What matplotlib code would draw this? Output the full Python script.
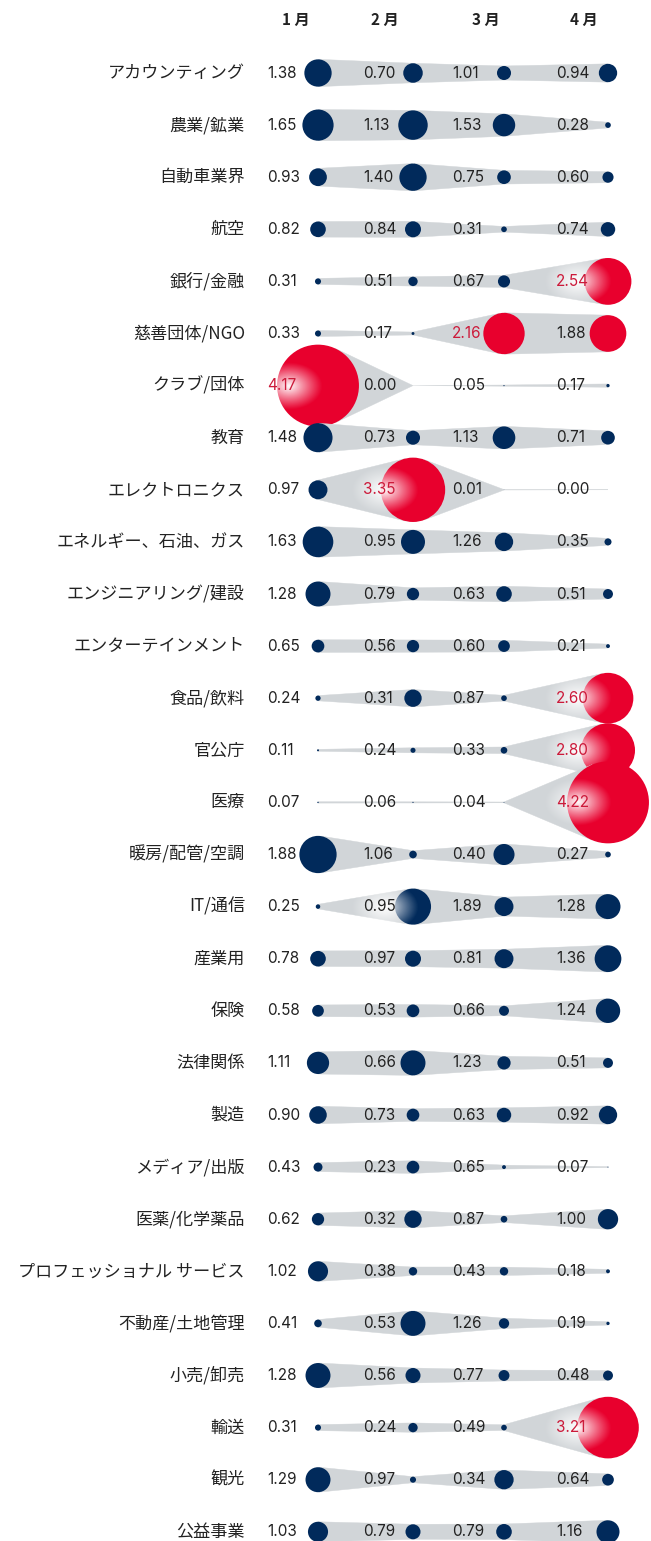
import matplotlib.pyplot as plt
from matplotlib.patches import Circle, Polygon
import numpy as np

industries = ['アカウンティング', '農業/鉱業', '自動車業界', '航空', '銀行/金融', '慈善団体/NGO',
              'クラブ/団体', '教育', 'エレクトロニクス', 'エネルギー、石油、ガス', 'エンジニアリング/建設',
              'エンターテインメント', '食品/飲料', '官公庁', '医療', '暖房/配管/空調', 'IT/通信', '産業用',
              '保険', '法律関係', '製造', 'メディア/出版', '医薬/化学薬品', 'プロフェッショナル サービス',
              '不動産/土地管理', '小売/卸売', '輸送', '観光', '公益事業']
months = ['1 月', '2 月', '3 月', '4 月']

# printed values
jan = [1.38, 1.65, 0.93, 0.82, 0.31, 0.33, 4.17, 1.48, 0.97, 1.63, 1.28, 0.65, 0.24, 0.11, 0.07,
       1.88, 0.25, 0.78, 0.58, 1.11, 0.90, 0.43, 0.62, 1.02, 0.41, 1.28, 0.31, 1.29, 1.03]
feb = [0.70, 1.13, 1.40, 0.84, 0.51, 0.17, 0.00, 0.73, 3.35, 0.95, 0.79, 0.56, 0.31, 0.24, 0.06,
       1.06, 0.95, 0.97, 0.53, 0.66, 0.73, 0.23, 0.32, 0.38, 0.53, 0.56, 0.24, 0.97, 0.79]
mar = [1.01, 1.53, 0.75, 0.31, 0.67, 2.16, 0.05, 1.13, 0.01, 1.26, 0.63, 0.60, 0.87, 0.33, 0.04,
       0.40, 1.89, 0.81, 0.66, 1.23, 0.63, 0.65, 0.87, 0.43, 1.26, 0.77, 0.49, 0.34, 0.79]
apr = [0.94, 0.28, 0.60, 0.74, 2.54, 1.88, 0.17, 0.71, 0.00, 0.35, 0.51, 0.21, 2.60, 2.80, 4.22,
       0.27, 1.28, 1.36, 1.24, 0.51, 0.92, 0.07, 1.00, 0.18, 0.19, 0.48, 3.21, 0.64, 1.16]

# bubble sizes as drawn (they don't always match the printed value)
jan_b = [1.40, 1.60, 0.91, 0.80, 0.31, 0.31, 4.20, 1.49, 0.97, 1.57, 1.28, 0.65, 0.27, 0.10, 0.07,
         1.91, 0.23, 0.80, 0.60, 1.14, 0.90, 0.46, 0.63, 1.03, 0.39, 1.28, 0.31, 1.28, 1.03]
feb_b = [1.00, 1.51, 1.40, 0.82, 0.48, 0.15, 0.00, 0.72, 3.30, 1.23, 0.63, 0.63, 0.89, 0.26, 0.06,
         0.39, 1.85, 0.82, 0.65, 1.28, 0.65, 0.65, 0.89, 0.43, 1.28, 0.77, 0.48, 0.31, 0.77]
mar_b = [0.72, 1.15, 0.70, 0.29, 0.62, 2.12, 0.06, 1.16, 0.02, 0.94, 0.80, 0.60, 0.29, 0.34, 0.04,
         1.08, 0.97, 0.97, 0.51, 0.68, 0.74, 0.20, 0.34, 0.43, 0.53, 0.56, 0.29, 0.99, 0.80]
apr_b = [0.94, 0.29, 0.57, 0.74, 2.40, 1.88, 0.17, 0.70, 0.00, 0.36, 0.51, 0.20, 2.60, 2.77, 4.20,
         0.29, 1.28, 1.37, 1.25, 0.51, 0.94, 0.05, 1.04, 0.20, 0.17, 0.51, 3.16, 0.60, 1.18]

red_cells = [(4, 3), (5, 2), (5, 3), (6, 0), (8, 1), (12, 3), (13, 3), (14, 3), (26, 3)]
glow_cells = [(4, 3), (6, 0), (8, 1), (12, 3), (13, 3), (14, 3), (16, 1), (26, 3)]

vals = np.array([jan, feb, mar, apr]).T
sizes = np.array([jan_b, feb_b, mar_b, apr_b]).T

NAVY = '#012a5b'
RED = '#e8002d'
GRAY = '#d1d5d8'
TXT = '#222222'
TXT_RED = '#cc1a3a'

# layout in pixels
W, H = 651, 1541
col_x = [318, 413, 504, 608]
label_x = [267, 363, 452, 556]
head_x = [296, 385, 486, 584]
y0, dy = 73, 52.1
k = 9.75  # px of radius per unit

fig = plt.figure(figsize=(W / 100, H / 100), dpi=100)
ax = fig.add_axes([0, 0, 1, 1])


def glow(cx, cy, rx, ry, z):
    n = 101
    g = np.linspace(-1, 1, n)
    X, Y = np.meshgrid(g, g)
    d = np.sqrt(X ** 2 + Y ** 2)
    img = np.ones((n, n, 4))
    img[..., 3] = np.clip(1 - d, 0, 1) ** 1.1
    ax.imshow(img, extent=(cx - rx, cx + rx, cy + ry, cy - ry), zorder=z,
              interpolation='bilinear', aspect='auto')


for m, hx in zip(months, head_x):
    ax.text(hx, 20, m, ha='center', va='center', fontsize=11, color=TXT,
            family=['Noto Sans CJK JP'], weight='bold')

for i, name in enumerate(industries):
    y = y0 + i * dy
    z = 10 + i * 5
    ax.text(245, y, name, ha='right', va='center', fontsize=12.3, color=TXT,
            family=['Noto Sans CJK JP', 'DejaVu Sans'])
    r = sizes[i] * k
    # tapered connectors between neighbouring bubbles
    for j in range(3):
        x1, x2 = col_x[j], col_x[j + 1]
        r1, r2 = r[j], r[j + 1]
        a = np.arcsin((r1 - r2) / (x2 - x1))
        s, c = np.sin(a), np.cos(a)
        pts = [(x1 + r1 * s, y - r1 * c), (x2 + r2 * s, y - r2 * c),
               (x2 + r2 * s, y + r2 * c), (x1 + r1 * s, y + r1 * c)]
        ax.add_patch(Polygon(pts, closed=True, fc=GRAY, ec=GRAY, lw=0.3, zorder=z))
    for j in range(4):
        col = RED if (i, j) in red_cells else NAVY
        if r[j] > 0:
            ax.add_patch(Circle((col_x[j], y), r[j], fc=col, ec='none', zorder=z + 1))
        if (i, j) in glow_cells:
            glow(label_x[j] + 22, y, 34, 24, z + 2)
        v = vals[i, j]
        ax.text(label_x[j], y, f'{v:.2f}', ha='left', va='center', fontsize=11,
                color=TXT_RED if v > 2 else TXT, family=['Inter', 'DejaVu Sans'], zorder=z + 3)

ax.set_xlim(0, W)
ax.set_ylim(H, 0)
ax.axis('off')
fig.savefig('out.png', dpi=100)
